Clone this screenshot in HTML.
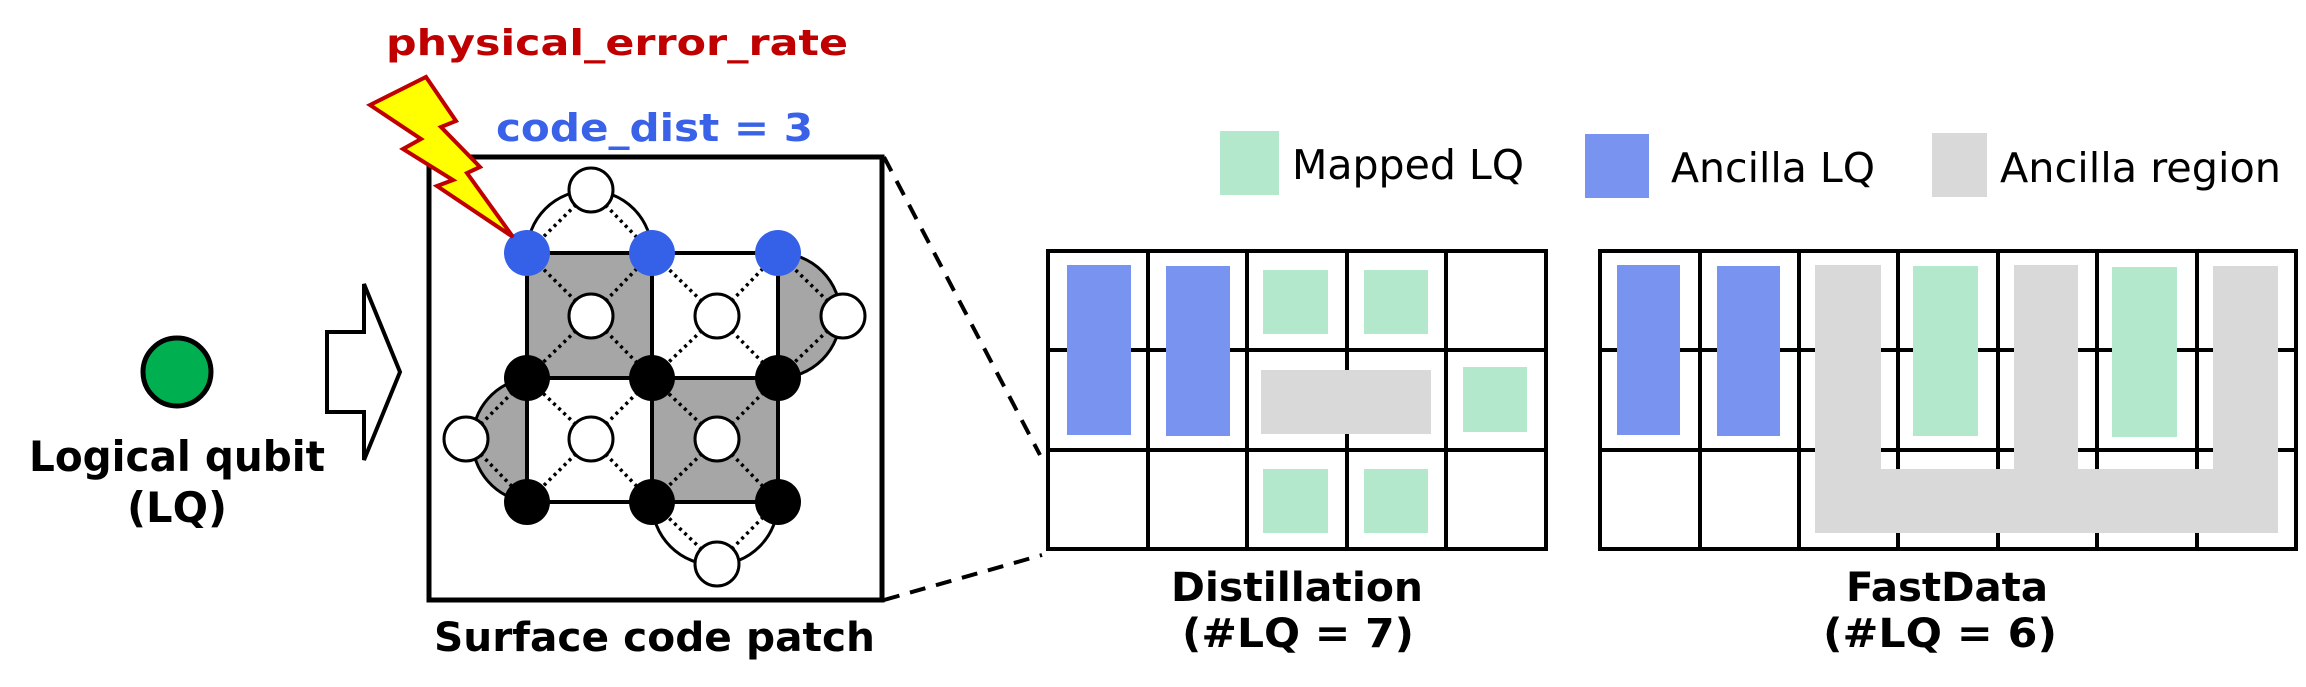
<!DOCTYPE html>
<html><head><meta charset="utf-8"><style>
html,body{margin:0;padding:0;background:#fff}
svg{display:block}
text{font-family:"DejaVu Sans Condensed","DejaVu Sans","Liberation Sans",sans-serif}
</style></head><body>
<svg width="2306" height="687" viewBox="0 0 2306 687" xmlns="http://www.w3.org/2000/svg">
<circle cx="177" cy="372" r="34" fill="#00b050" stroke="#000" stroke-width="5"/>
<text x="29" y="471" font-size="42" font-weight="bold" textLength="296" lengthAdjust="spacingAndGlyphs">Logical qubit</text>
<text x="127" y="522" font-size="42" font-weight="bold" textLength="100" lengthAdjust="spacingAndGlyphs">(LQ)</text>
<polygon points="327,332 364,332 364,284 400,372 364,460 364,412 327,412" fill="#fff" stroke="#000" stroke-width="4"/>
<rect x="429" y="157" width="453" height="443" fill="#fff" stroke="#000" stroke-width="5"/>
<text x="386" y="55" font-size="36" font-weight="bold" fill="#c00000" textLength="462" lengthAdjust="spacingAndGlyphs">physical_error_rate</text>
<text x="496" y="141" font-size="38" font-weight="bold" fill="#3a62e8" textLength="317" lengthAdjust="spacingAndGlyphs">code_dist = 3</text>
<path d="M527,253 A62.5,62.5 0 0 1 652,253 Z" fill="#fff" stroke="#000" stroke-width="3"/>
<path d="M778,253 A62.5,62.5 0 0 1 778,378 Z" fill="#a6a6a6" stroke="#000" stroke-width="3"/>
<path d="M527,502 A62.5,62.5 0 0 1 527,378 Z" fill="#a6a6a6" stroke="#000" stroke-width="3"/>
<path d="M778,502 A62.5,62.5 0 0 1 652,502 Z" fill="#fff" stroke="#000" stroke-width="3"/>
<rect x="527" y="253" width="125" height="125" fill="#a6a6a6"/>
<rect x="652" y="378" width="126" height="124" fill="#a6a6a6"/>
<g stroke="#000" stroke-width="4" fill="none">
<rect x="527" y="253" width="251" height="249"/>
<line x1="652" y1="253" x2="652" y2="502"/>
<line x1="527" y1="378" x2="778" y2="378"/>
</g>
<g stroke="#000" stroke-width="3.5" stroke-dasharray="3,4">
<line x1="591" y1="316" x2="527" y2="253"/><line x1="591" y1="316" x2="652" y2="253"/><line x1="591" y1="316" x2="527" y2="378"/><line x1="591" y1="316" x2="652" y2="378"/>
<line x1="717" y1="316" x2="652" y2="253"/><line x1="717" y1="316" x2="778" y2="253"/><line x1="717" y1="316" x2="652" y2="378"/><line x1="717" y1="316" x2="778" y2="378"/>
<line x1="591" y1="439" x2="527" y2="378"/><line x1="591" y1="439" x2="652" y2="378"/><line x1="591" y1="439" x2="527" y2="502"/><line x1="591" y1="439" x2="652" y2="502"/>
<line x1="717" y1="439" x2="652" y2="378"/><line x1="717" y1="439" x2="778" y2="378"/><line x1="717" y1="439" x2="652" y2="502"/><line x1="717" y1="439" x2="778" y2="502"/>
<line x1="591" y1="190" x2="527" y2="253"/><line x1="591" y1="190" x2="652" y2="253"/>
<line x1="843" y1="316" x2="778" y2="253"/><line x1="843" y1="316" x2="778" y2="378"/>
<line x1="466" y1="439" x2="527" y2="378"/><line x1="466" y1="439" x2="527" y2="502"/>
<line x1="717" y1="564" x2="652" y2="502"/><line x1="717" y1="564" x2="778" y2="502"/>
</g>
<g fill="#fff" stroke="#000" stroke-width="3">
<circle cx="591" cy="190" r="22"/><circle cx="843" cy="316" r="22"/><circle cx="466" cy="439" r="22"/><circle cx="717" cy="564" r="22"/>
<circle cx="591" cy="316" r="22"/><circle cx="717" cy="316" r="22"/><circle cx="591" cy="439" r="22"/><circle cx="717" cy="439" r="22"/>
</g>
<g>
<circle cx="527" cy="253" r="23" fill="#3560e8"/><circle cx="652" cy="253" r="23" fill="#3560e8"/><circle cx="778" cy="253" r="23" fill="#3560e8"/>
<circle cx="527" cy="378" r="23" fill="#000"/><circle cx="652" cy="378" r="23" fill="#000"/><circle cx="778" cy="378" r="23" fill="#000"/>
<circle cx="527" cy="502" r="23" fill="#000"/><circle cx="652" cy="502" r="23" fill="#000"/><circle cx="778" cy="502" r="23" fill="#000"/>
</g>
<polygon points="370,105 426,77 456,121 441,127 480,167 467,173 513,237 437,186 453,180 403,149 421,139" fill="#ffff00" stroke="#c00000" stroke-width="4"/>
<text x="434" y="651" font-size="40" font-weight="bold" textLength="441" lengthAdjust="spacingAndGlyphs">Surface code patch</text>
<line x1="884" y1="157" x2="1040" y2="455" stroke="#000" stroke-width="4" stroke-dasharray="16,11"/>
<line x1="884" y1="600" x2="1042" y2="555" stroke="#000" stroke-width="4" stroke-dasharray="16,11"/>
<rect x="1220" y="131" width="59" height="64" fill="#b3e8cc"/>
<text x="1292" y="179" font-size="41" textLength="232" lengthAdjust="spacingAndGlyphs">Mapped LQ</text>
<rect x="1585" y="134" width="64" height="64" fill="#7893f0"/>
<text x="1671" y="182" font-size="41" textLength="204" lengthAdjust="spacingAndGlyphs">Ancilla LQ</text>
<rect x="1932" y="133" width="55" height="64" fill="#d9d9d9"/>
<text x="2000" y="182" font-size="41" textLength="281" lengthAdjust="spacingAndGlyphs">Ancilla region</text>
<g stroke="#000" stroke-width="4" fill="none">
<rect x="1048" y="251" width="498" height="298"/>
<line x1="1048" y1="350" x2="1546" y2="350"/><line x1="1048" y1="450" x2="1546" y2="450"/>
<line x1="1148" y1="251" x2="1148" y2="549"/><line x1="1247" y1="251" x2="1247" y2="549"/><line x1="1347" y1="251" x2="1347" y2="549"/><line x1="1446" y1="251" x2="1446" y2="549"/>
</g>
<g>
<rect x="1067" y="265" width="64" height="170" fill="#7893f0"/>
<rect x="1166" y="266" width="64" height="170" fill="#7893f0"/>
<rect x="1263" y="270" width="65" height="64" fill="#b3e8cc"/>
<rect x="1364" y="270" width="64" height="64" fill="#b3e8cc"/>
<rect x="1463" y="367" width="64" height="65" fill="#b3e8cc"/>
<rect x="1261" y="370" width="170" height="64" fill="#d9d9d9"/>
<rect x="1263" y="469" width="65" height="64" fill="#b3e8cc"/>
<rect x="1364" y="469" width="64" height="64" fill="#b3e8cc"/>
</g>
<text x="1171" y="601" font-size="40" font-weight="bold" textLength="252" lengthAdjust="spacingAndGlyphs">Distillation</text>
<text x="1182" y="647" font-size="40" font-weight="bold" textLength="232" lengthAdjust="spacingAndGlyphs">(#LQ = 7)</text>
<g stroke="#000" stroke-width="4" fill="none">
<rect x="1600" y="251" width="696" height="298"/>
<line x1="1600" y1="350" x2="2296" y2="350"/><line x1="1600" y1="450" x2="2296" y2="450"/>
<line x1="1700" y1="251" x2="1700" y2="549"/><line x1="1799" y1="251" x2="1799" y2="549"/><line x1="1898" y1="251" x2="1898" y2="549"/><line x1="1998" y1="251" x2="1998" y2="549"/><line x1="2097" y1="251" x2="2097" y2="549"/><line x1="2197" y1="251" x2="2197" y2="549"/>
</g>
<g>
<rect x="1617" y="265" width="63" height="170" fill="#7893f0"/>
<rect x="1717" y="266" width="63" height="170" fill="#7893f0"/>
<rect x="1815" y="265" width="66" height="268" fill="#d9d9d9"/>
<rect x="2014" y="265" width="64" height="268" fill="#d9d9d9"/>
<rect x="2213" y="266" width="65" height="267" fill="#d9d9d9"/>
<rect x="1815" y="469" width="463" height="64" fill="#d9d9d9"/>
<rect x="1913" y="266" width="65" height="170" fill="#b3e8cc"/>
<rect x="2112" y="267" width="65" height="170" fill="#b3e8cc"/>
</g>
<text x="1846" y="601" font-size="40" font-weight="bold" textLength="202" lengthAdjust="spacingAndGlyphs">FastData</text>
<text x="1823" y="647" font-size="40" font-weight="bold" textLength="234" lengthAdjust="spacingAndGlyphs">(#LQ = 6)</text>
</svg>
</body></html>
